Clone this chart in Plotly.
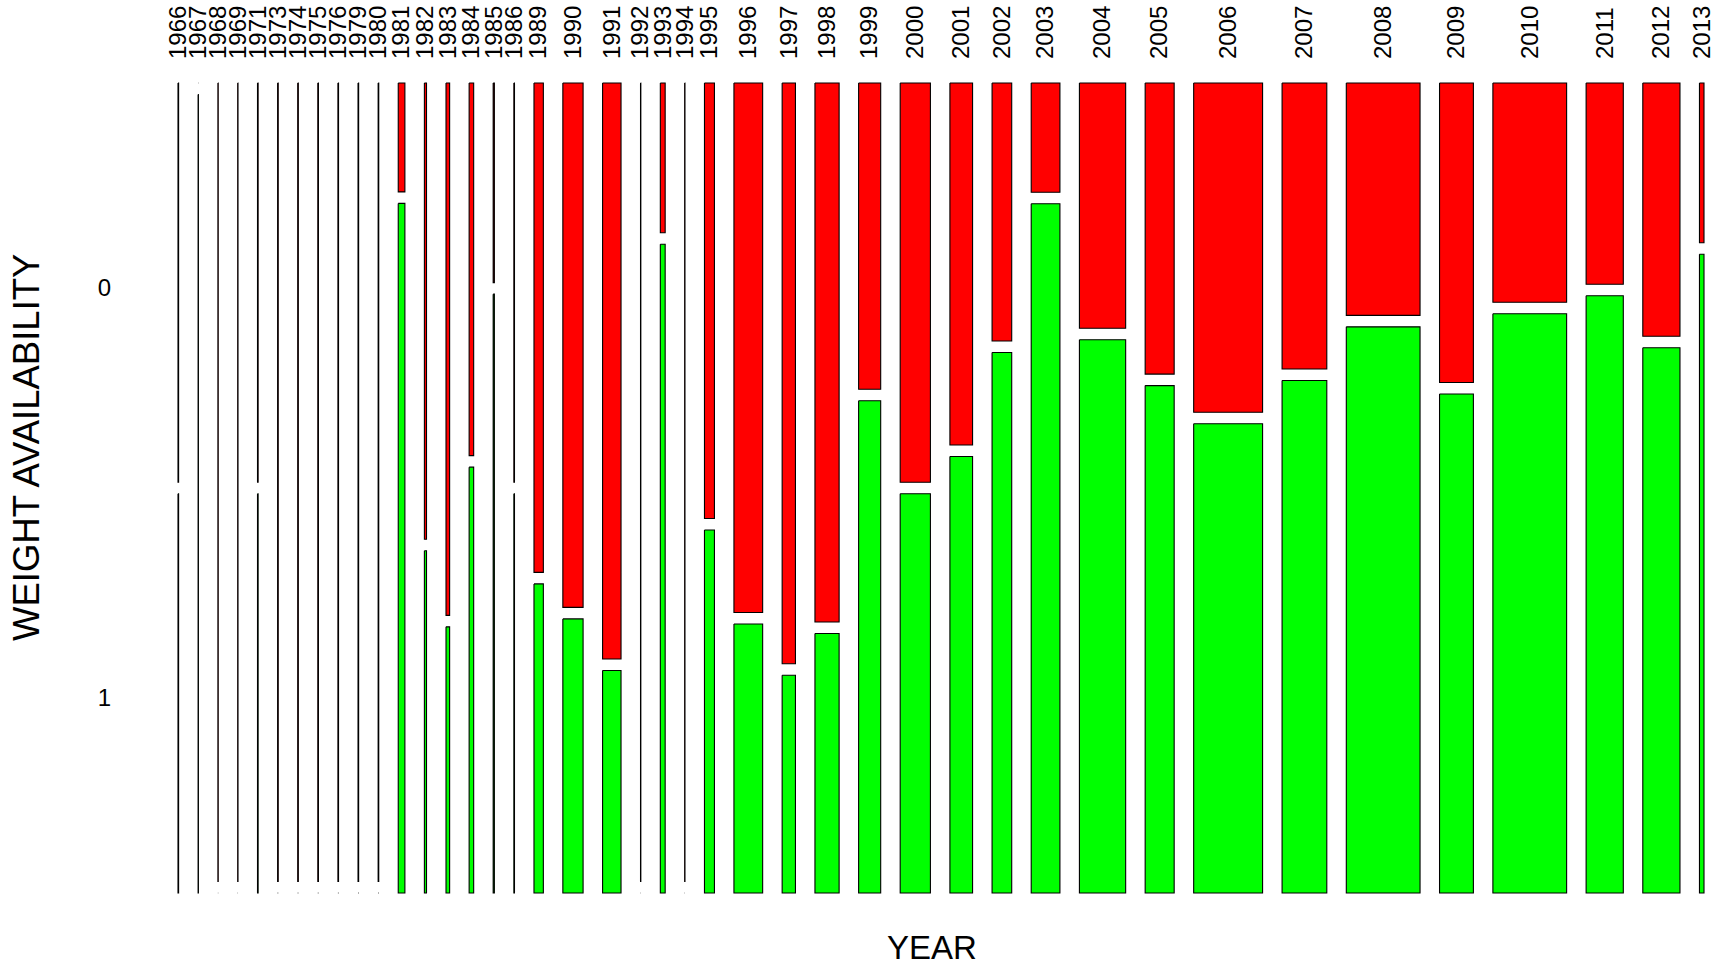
import plotly.graph_objects as go

# ---- data ----
years = [1966, 1967, 1968, 1969, 1971, 1973, 1974, 1975, 1976, 1979, 1980,
         1981, 1982, 1983, 1984, 1985, 1986, 1989, 1990, 1991, 1992, 1993,
         1994, 1995, 1996, 1997, 1998, 1999, 2000, 2001, 2002, 2003, 2004,
         2005, 2006, 2007, 2008, 2009, 2010, 2011, 2012, 2013]
# counts with WEIGHT AVAILABILITY = 0
n0 = [1, 0, 1, 1, 1, 2, 2, 2, 2, 2, 2,
      3, 4, 8, 7, 1, 1, 19, 44, 44, 1, 3,
      1, 18, 63, 32, 54, 28, 50, 34, 21, 13, 47,
      35, 94, 53, 71, 42, 67, 31, 39, 3]
# counts with WEIGHT AVAILABILITY = 1
n1 = [1, 1, 0, 0, 1, 0, 0, 0, 0, 0, 0,
      19, 3, 4, 8, 3, 1, 12, 23, 17, 0, 13,
      0, 15, 32, 12, 26, 45, 50, 41, 44, 82, 106,
      61, 134, 95, 173, 70, 177, 92, 84, 12]
levels = ["0", "1"]
level_colors = ["#FF0000", "#00FF00"]

# ---- mosaic geometry (plot units) ----
W, H = 1526.0, 810.0
GAP_X, GAP_Y = 19.5, 11.5
ncol = len(years)
totals = [a + b for a, b in zip(n0, n1)]
N = sum(totals)
avail_x = W - GAP_X * (ncol - 1)
avail_y = H - GAP_Y

xs0, xs1 = [], []
cur = 0.0
for t in totals:
    w = t / N * avail_x
    xs0.append(cur)
    xs1.append(cur + w)
    cur += w + GAP_X

def poly(cells):
    px, py = [], []
    for (a, b, c, d) in cells:
        px += [a, b, b, a, a, None]
        py += [c, c, d, d, c, None]
    return px, py

red_cells, green_cells = [], []
splits = []
for i in range(ncol):
    f0 = n0[i] / totals[i]
    ysplit = f0 * avail_y
    splits.append(ysplit)
    red_cells.append((xs0[i], xs1[i], 0.0, ysplit))
    green_cells.append((xs0[i], xs1[i], ysplit + GAP_Y, H))

fig = go.Figure()
for cells, col, lev in [(red_cells, level_colors[0], levels[0]),
                        (green_cells, level_colors[1], levels[1])]:
    px, py = poly(cells)
    fig.add_trace(go.Scatter(
        x=px, y=py, mode="lines", fill="toself", fillcolor=col,
        line=dict(color="black", width=1.1), name=lev,
        hoverinfo="skip", showlegend=False))

centers = [(a + b) / 2 for a, b in zip(xs0, xs1)]
ytick_pos = [splits[0] / 2 + 5, (splits[0] + GAP_Y + H) / 2 + 4]

FONT = "Liberation Sans, Arial, sans-serif"
L, T = 176, 81
PW, PH = W + 4, H + 4
fig.update_layout(
    width=1725, height=965,
    margin=dict(l=L, r=1725 - L - PW, t=T, b=965 - T - PH, pad=0,
                autoexpand=False),
    plot_bgcolor="white", paper_bgcolor="white",
    font=dict(family=FONT, color="black"),
    xaxis=dict(range=[-2, W + 2], side="top", tickmode="array",
               tickvals=centers, ticktext=[str(y) for y in years],
               tickangle=-90, ticks="", showgrid=False, zeroline=False,
               showline=False, tickfont=dict(size=24, family=FONT),
               ticklabelstandoff=21, fixedrange=True, automargin=False),
    yaxis=dict(range=[H + 2, -2], tickmode="array", tickvals=ytick_pos,
               ticktext=levels, ticks="", showgrid=False, zeroline=False,
               showline=False, tickfont=dict(size=24, family=FONT),
               ticklabelstandoff=64, fixedrange=True, automargin=False),
    annotations=[
        dict(text="YEAR", xref="paper", yref="paper",
             x=(932 - L) / PW, y=(T + PH - 947) / PH,
             xanchor="center", yanchor="middle", showarrow=False,
             font=dict(size=33, family=FONT)),
        dict(text="WEIGHT AVAILABILITY", xref="paper", yref="paper",
             x=(26 - L) / PW, y=(T + PH - 448) / PH, textangle=-90,
             xanchor="center", yanchor="middle", showarrow=False,
             font=dict(size=36.5, family=FONT)),
    ],
)

fig.write_html("out.html", config={"displayModeBar": False},
               post_script="document.body.style.margin='0';")
